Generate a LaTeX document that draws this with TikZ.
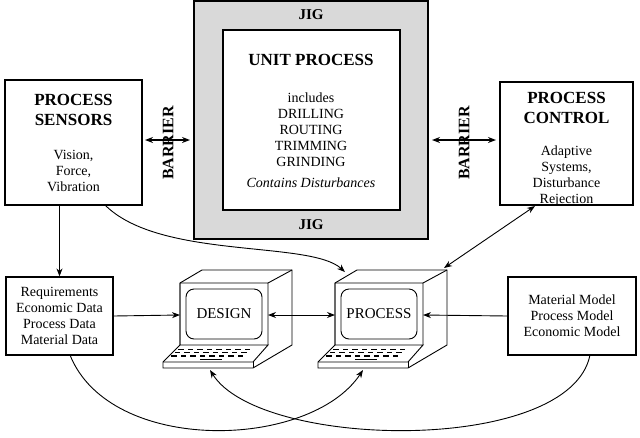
\documentclass[tikz,border=0pt]{standalone}
\usepackage{fontspec}
\setmainfont{Liberation Serif}
\usetikzlibrary{arrows.meta}
\begin{document}
\begin{tikzpicture}[x=1pt,y=-1pt,
  box/.style={draw,line width=1.4pt,align=center,inner sep=0pt},
  arr/.style={-{Stealth[length=8pt,width=6pt]},line width=0.9pt},
  darr/.style={{Stealth[length=8pt,width=6pt]}-{Stealth[length=8pt,width=6pt]},line width=0.9pt},
  ttl/.style={font=\bfseries\fontsize{17}{20}\selectfont,align=center},
  txt/.style={font=\fontsize{14}{16}\selectfont,align=center}]
\useasboundingbox (0,0) rectangle (640,437);
% JIG
\fill[gray!30] (194,1) rectangle (428,239);
\draw[line width=1.4pt] (194,1) rectangle (428,239);
\node[draw,line width=1.8pt,fill=white,minimum width=177pt,minimum height=180pt] (unit) at (311.5,120) {};
\node[font=\bfseries\fontsize{15}{16}\selectfont] (jigt) at (311,15) {JIG};
\node[font=\bfseries\fontsize{15}{16}\selectfont] (jigb) at (311,225) {JIG};
\node[ttl] (ut) at (311,60) {UNIT PROCESS};
\node[txt] (ul) at (311,130) {includes\\DRILLING\\ROUTING\\TRIMMING\\GRINDING};
\node[txt,font=\itshape\fontsize{14}{16}\selectfont] (ud) at (311,183) {Contains Disturbances};
% sensors and control
\node[box,minimum width=137pt,minimum height=125pt] (sens) at (73.5,142.5) {};
\node[ttl] (senst) at (73.5,110) {PROCESS\\SENSORS};
\node[txt] (sensx) at (73.5,171) {Vision,\\Force,\\Vibration};
\node[box,minimum width=133pt,minimum height=123pt] (ctrl) at (566.5,143.5) {};
\node[ttl] (ctrlt) at (566.5,108) {PROCESS\\CONTROL};
\node[txt] (ctrlx) at (566.5,176) {Adaptive\\Systems,\\Disturbance\\Rejection};
% barriers
\node[font=\bfseries\fontsize{16}{17}\selectfont,rotate=90] (bl) at (168,143) {BARRIER};
\node[font=\bfseries\fontsize{16}{17}\selectfont,rotate=90] (br) at (464,143) {BARRIER};
\coordinate (bl1) at (145,140); \coordinate (bl2) at (190,140);
\coordinate (br1) at (432,140); \coordinate (br2) at (496,140);
\draw[darr,line width=1.8pt] (bl1) -- (bl2);
\draw[darr,line width=1.8pt] (br1) -- (br2);
% data boxes
\node[box,line width=1.2pt,minimum width=107pt,minimum height=78pt,txt] (req) at (59.5,316) {Requirements\\Economic Data\\Process Data\\Material Data};
\node[box,line width=1.2pt,minimum width=128pt,minimum height=78pt,txt] (mat) at (572,316) {Material Model\\Process Model\\Economic Model};
% computers
\foreach \n/\x/\lab in {des/180/DESIGN,pro/335/PROCESS}{
  \begin{scope}[shift={(\x,0)},line width=0.9pt]
  \draw[fill=white] (0,283) -- (22,270) -- (112,270) -- (112,345) -- (73,368) -- (-17,368) -- (-17,362) -- (0,345) -- cycle;
  \draw (0,283) -- (88,283) -- (112,270) (88,283) -- (88,345);
  \draw (0,283) -- (0,345) -- (88,345) -- (73,362) -- (-17,362);
  \draw (73,362) -- (73,368);
  \draw[rounded corners=8pt] (6,289) rectangle (82,339);
  \foreach \r in {0,1,2}{\foreach \k in {0,...,7}{
    \fill (-2+\k*9.5-\r*3.5,348.5+\r*3.3) rectangle ++(5.5,1.6);}}
  \draw[line width=1.1pt] (20,359.5) -- (42,359.5);
  \end{scope}
  \node[font=\fontsize{15}{16}\selectfont] (\n) at (\x+44,314) {\lab};
}
\coordinate (desL) at (180,315); \coordinate (desR) at (268,315);
\coordinate (proL) at (335,315); \coordinate (proR) at (423,315);
\coordinate (proTop) at (345,272); \coordinate (proBack) at (444,268);
\coordinate (desKey) at (210,370); \coordinate (proKey) at (363,370);
% connectors
\draw[arr] (105,205) .. controls (160,260) and (310,240) .. (proTop);
\draw[arr] (sens.south -| req.north) -- (req.north);
\draw[darr] (proBack) -- (535,206);
\draw[arr] (req.east) -- (desL);
\draw[darr] (desR) -- (proL);
\draw[arr] (mat.west) -- (proR);
\draw[arr] (70,355) .. controls (110,455) and (310,450) .. (proKey);
\draw[arr] (590,355) .. controls (570,455) and (260,450) .. (desKey);
\end{tikzpicture}
\end{document}
